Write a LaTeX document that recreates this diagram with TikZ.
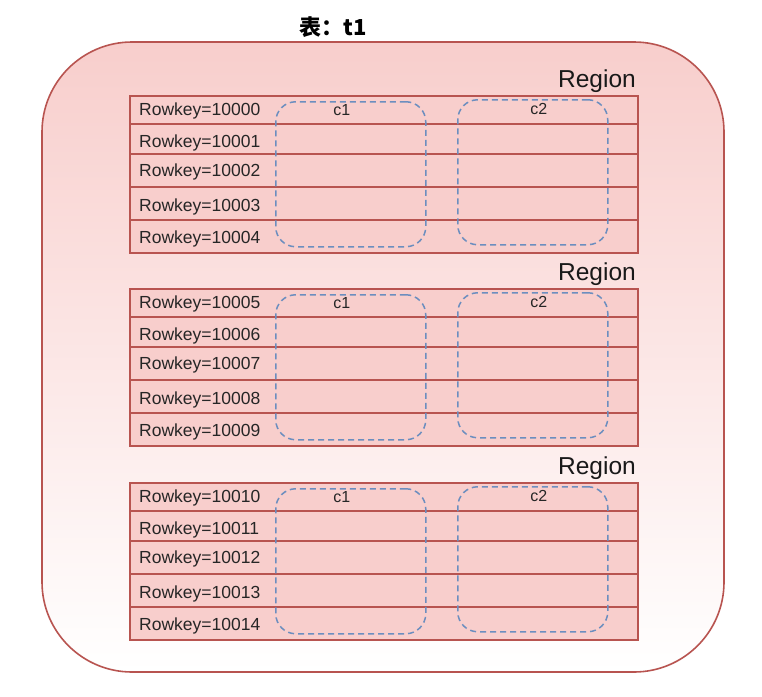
\documentclass[tikz,border=0pt]{standalone}
\usepackage{fontspec}
\setmainfont{Liberation Sans}
\newfontfamily\cjkfont{Noto Sans CJK SC}
\usetikzlibrary{positioning}
\definecolor{regfill}{HTML}{F8CECC}
\definecolor{regline}{HTML}{B85450}
\definecolor{famline}{HTML}{6C8EBF}

\begin{document}
\begin{tikzpicture}[x=1pt,y=-1pt,
    table node/.style={draw=regline,line width=1.6pt,rounded corners=90pt,top color=regfill,bottom color=white,minimum width=682pt,minimum height=630pt,inner sep=0pt},
    row node/.style={draw=regline,fill=regfill,line width=1.6pt,minimum width=508pt,inner sep=0pt,anchor=north west},
    key node/.style={font=\fontsize{17.5}{20}\selectfont,text=black!85,anchor=west,inner sep=0pt},
    fam node/.style={draw=famline,dash pattern=on 6pt off 4pt,line width=1.5pt,rounded corners=20pt,minimum width=150pt,minimum height=145pt,inner sep=0pt,anchor=north west},
    fam label/.style={font=\fontsize{16}{19}\selectfont,text=black!85,inner sep=0pt},
    region label/.style={font=\fontsize{24.5}{28}\selectfont,text=black!90,anchor=east,inner sep=0pt}]

    \useasboundingbox (0,0) rectangle (762,696);

    \node[table node] (tbl) at (383,357) {};
    \node[font=\cjkfont\bfseries\fontsize{22}{26}\selectfont] (title) at (333,27) {表：t1};

    % three regions, five rows each
    \foreach \blk/\ytop/\kbase in {a/95/0,b/288/5,c/482/10} {
        \node[region label] (reg-\blk) at (636,\ytop-14) {Region};
        \foreach \off/\h/\dy [count=\i from 0] in {0/28/1.5,28/30/4,58/33/2,91/33/4,124/33/3} {
            \node[row node,minimum height=\h pt] (row-\blk\i) at (129,\ytop+\off) {};
            \pgfmathtruncatemacro\num{10000+\kbase+\i}
            \node[key node] (key-\blk\i) at ([xshift=10pt,yshift=-\dy pt]row-\blk\i.west) {Rowkey=\num};
        }
        \node[fam node] (c1-\blk) at (275,\ytop+6) {};
        \node[fam label] (c1l-\blk) at ([xshift=-9pt,yshift=-9pt]c1-\blk.north) {c1};
        \node[fam node] (c2-\blk) at (457,\ytop+4) {};
        \node[fam label] (c2l-\blk) at ([xshift=6pt,yshift=-10pt]c2-\blk.north) {c2};
    }
\end{tikzpicture}
\end{document}
